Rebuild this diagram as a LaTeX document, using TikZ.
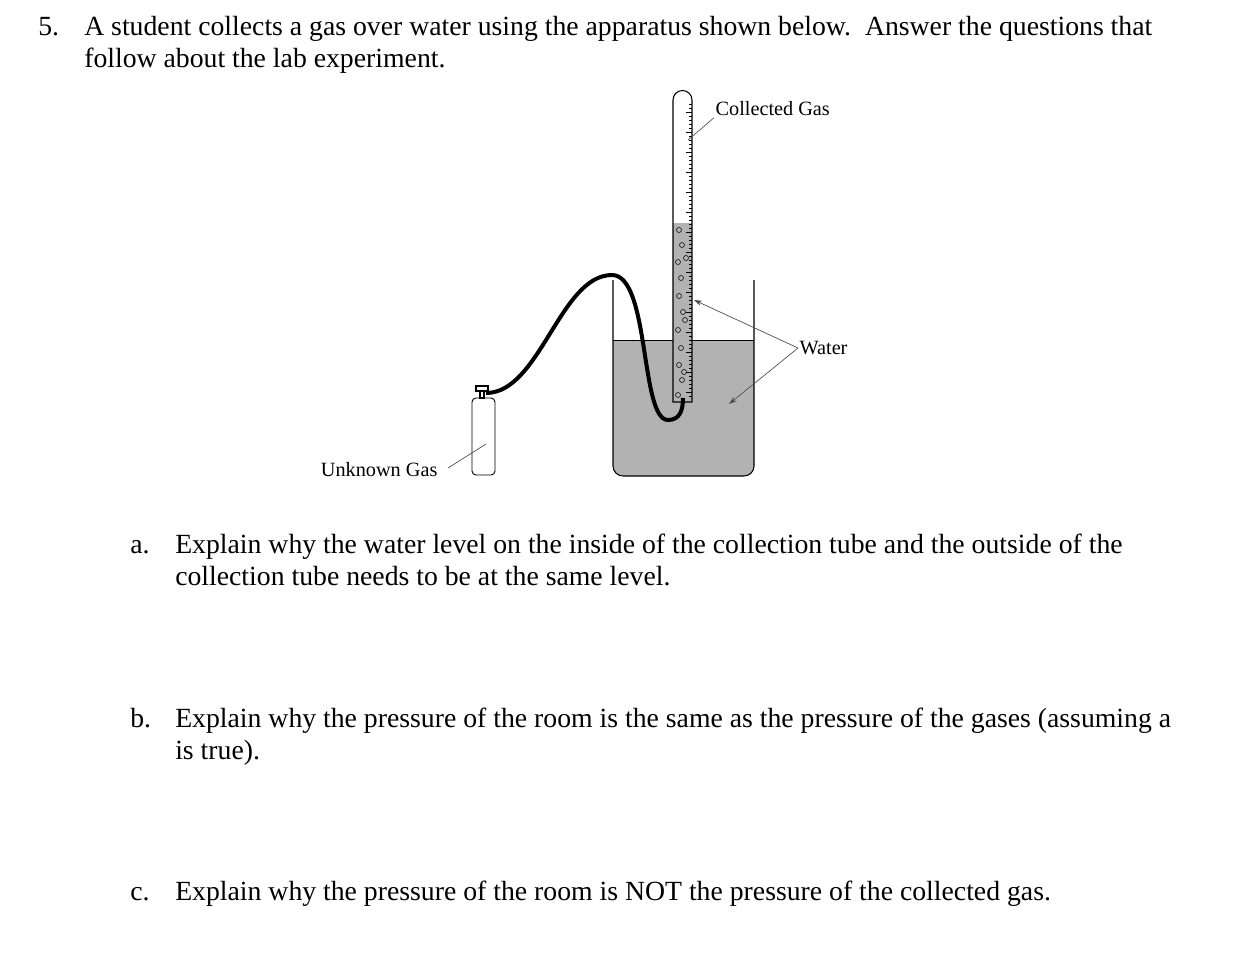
\documentclass[tikz,border=0pt]{standalone}
\usepackage{fontspec}
\setmainfont{Liberation Serif}
\usetikzlibrary{arrows.meta}
\begin{document}
\begin{tikzpicture}[x=0.75pt,y=-0.75pt,
  qtext/.style={anchor=base west,inner sep=0pt,font=\fontsize{20.8}{24}\selectfont},
  lbl/.style={inner sep=1pt,font=\fontsize{15.2}{17}\selectfont},
  lead/.style={draw=black!70,line width=0.5pt},
  arr/.style={lead,-{Stealth[length=6pt,width=4pt]}}]
\useasboundingbox (0,0) rectangle (1250,956);
% question text
\node[qtext] (q5n) at (38,36) {5.};
\node[qtext] (q1) at (84,36) {A student collects a gas over water using the apparatus shown below.\ \ Answer the questions that};
\node[qtext] (q2) at (84,68) {follow about the lab experiment.};
\node[qtext] (an) at (130,553) {a.};
\node[qtext] (a1) at (175,553) {Explain why the water level on the inside of the collection tube and the outside of the};
\node[qtext] (a2) at (175,585) {collection tube needs to be at the same level.};
\node[qtext] (bn) at (130,727) {b.};
\node[qtext] (b1) at (175,727) {Explain why the pressure of the room is the same as the pressure of the gases (assuming a};
\node[qtext] (b2) at (175,759) {is true).};
\node[qtext] (cn) at (130,900) {c.};
\node[qtext] (c1) at (175,900) {Explain why the pressure of the room is NOT the pressure of the collected gas.};
% beaker water
\fill[black!30] (613,340) -- (754,340) -- (754,466) to[out=-90,in=0] (744,476) -- (623,476) to[out=180,in=-90] (613,466) -- cycle;
\draw[line width=0.8pt] (613,280) -- (613,466) to[out=-90,in=180] (623,476) -- (744,476) to[out=0,in=-90] (754,466) -- (754,280);
\draw[line width=0.6pt] (613,340) -- (754,340);
% collection tube
\fill[white] (673,402) -- (673,100) arc[start angle=180,end angle=360,radius=9.5] -- (692,402) -- cycle;
\fill[black!30] (673,223) rectangle (692,402);
\draw[line width=0.8pt] (673,402) -- (673,100) arc[start angle=180,end angle=360,radius=9.5] -- (692,402) -- cycle;
\foreach \yy in {104,108,...,398} {\draw[line width=0.35pt] (692,\yy) -- (689,\yy);}
\foreach \yy in {112,132,...,392} {\draw[line width=0.35pt] (692,\yy) -- (686,\yy);}
\foreach \xx/\yy in {679/230,682/245,678/262,681/278,679/296,683/312,678/330,681/348,679/365,682/380,678/395,686/258,685/320,684/372}
  {\draw[line width=0.4pt] (\xx,\yy) circle[radius=2.5];}
% gas bottle
\draw[line width=0.7pt,rounded corners=3pt] (472,398) rectangle (495,475);
\draw[line width=0.8pt,fill=white] (476,386) rectangle (488,391);
\draw[line width=0.8pt] (480,391) rectangle (484,398);
% hose
\draw[line width=3pt] (486,393) .. controls (540,393) and (560,275) .. (612,275) .. controls (650,275) and (640,420) .. (668,420) .. controls (680,420) and (683,410) .. (683,398);
% labels
\node[lbl,anchor=west] (cg) at (714,109) {Collected Gas};
\coordinate (cgp) at (688,140);
\draw[lead] (cgp) -- (cg.south west);
\node[lbl,anchor=west] (wt) at (798,348) {Water};
\coordinate (w1) at (694,300);
\coordinate (w2) at (729,404);
\draw[arr] (wt.west) -- (w1);
\draw[arr] (wt.west) -- (w2);
\node[lbl,anchor=east] (ug) at (439,470) {Unknown Gas};
\coordinate (ugp) at (486,444);
\draw[lead] (448,468) -- (ugp);
\end{tikzpicture}
\end{document}
